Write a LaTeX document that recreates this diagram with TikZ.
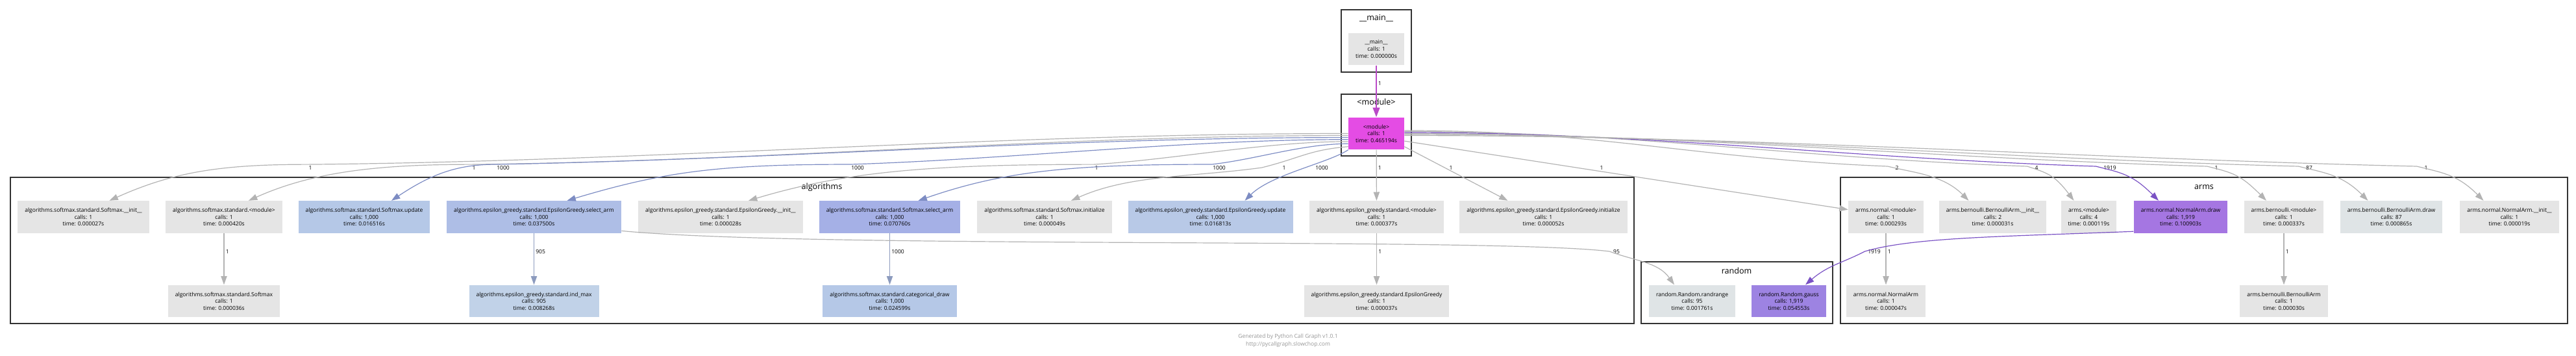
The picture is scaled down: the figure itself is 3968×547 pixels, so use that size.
\documentclass[tikz,border=0pt]{standalone}
\usepackage{fontspec}
\newfontfamily\cgfont{Open Sans}
\usetikzlibrary{arrows.meta,calc}

\definecolor{fngray}{RGB}{229,229,229}
\definecolor{fnsmupd}{RGB}{181,200,231}
\definecolor{fnegsel}{RGB}{174,190,230}
\definecolor{fnsmsel}{RGB}{165,176,230}
\definecolor{fnegupd}{RGB}{184,201,231}
\definecolor{fnindmax}{RGB}{193,210,232}
\definecolor{fncatdraw}{RGB}{181,200,231}
\definecolor{fnpale}{RGB}{223,228,230}
\definecolor{fngauss}{RGB}{157,131,226}
\definecolor{fnnadraw}{RGB}{165,118,226}
\definecolor{fnmodule}{RGB}{228,76,228}
\definecolor{clusterline}{RGB}{51,51,51}
\definecolor{edgegray}{RGB}{179,179,179}
\definecolor{edgeblue}{RGB}{125,140,195}
\definecolor{edgeslate}{RGB}{140,155,190}
\definecolor{edgepurple}{RGB}{122,82,196}
\definecolor{edgemagenta}{RGB}{186,74,200}
\definecolor{footgray}{RGB}{150,150,150}

\tikzset{every picture/.style={line width=0.75pt}}
\tikzset{
  fnode/.style={fill=fngray, font=\cgfont\fontsize{6.4}{8}\selectfont, align=center, minimum height=37pt, inner xsep=8.25pt, inner ysep=1pt},
  clusterbox/.style={draw=clusterline, line width=1.9pt},
  clabel/.style={font=\cgfont\fontsize{9.4}{11}\selectfont},
  countlbl/.style={font=\cgfont\fontsize{6.4}{8}\selectfont, inner sep=1pt},
  callarrow/.style={draw=edgegray, line width=0.9pt, -{Triangle[length=10pt,width=7pt]}},
}

\begin{document}
\begin{tikzpicture}[x=0.75pt,y=0.75pt,yscale=-1,xscale=1]
\useasboundingbox (0,0) rectangle (3968,547);

%Shape: Rectangle [clusters]
\draw [clusterbox] (2066,15) rectangle (2174,111);
\draw [clusterbox] (2066,145) rectangle (2174,240);
\draw [clusterbox] (16,273) rectangle (2517,498);
\draw [clusterbox] (2528,403) rectangle (2823,498);
\draw [clusterbox] (2835,273) rectangle (3955,498);

% Text Node [cluster labels]
\node [clabel] (k-main) at (2120,28) {\_\_main\_\_};
\node [clabel] (k-mod) at (2120,157) {<module>};
\node [clabel] (k-alg) at (1266,288) {algorithms};
\node [clabel] (k-rand) at (2675,417) {random};
\node [clabel] (k-arms) at (3395,288) {arms};

% Text Node [__main__ and <module>]
\node [fnode] (main) at (2120,75.5) {\_\_main\_\_\\calls: 1\\time: 0.000000s};
\node [fnode, fill=fnmodule] (mod) at (2120,205.5) {<module>\\calls: 1\\time: 0.465194s};

% Text Node [algorithms, top row]
\node [fnode] (sminit) at (128.5,334) {algorithms.softmax.standard.Softmax.\_\_init\_\_\\calls: 1\\time: 0.000027s};
\node [fnode] (smmod) at (345,334) {algorithms.softmax.standard.<module>\\calls: 1\\time: 0.000420s};
\node [fnode, fill=fnsmupd] (smupd) at (561,334) {algorithms.softmax.standard.Softmax.update\\calls: 1,000\\time: 0.016516s};
\node [fnode, fill=fnegsel] (egsel) at (822.5,334) {algorithms.epsilon\_greedy.standard.EpsilonGreedy.select\_arm\\calls: 1,000\\time: 0.037500s};
\node [fnode] (eginit) at (1110,334) {algorithms.epsilon\_greedy.standard.EpsilonGreedy.\_\_init\_\_\\calls: 1\\time: 0.000028s};
\node [fnode, fill=fnsmsel] (smsel) at (1370.5,334) {algorithms.softmax.standard.Softmax.select\_arm\\calls: 1,000\\time: 0.070760s};
\node [fnode] (sminz) at (1609,334) {algorithms.softmax.standard.Softmax.initialize\\calls: 1\\time: 0.000049s};
\node [fnode, fill=fnegupd] (egupd) at (1864.5,334) {algorithms.epsilon\_greedy.standard.EpsilonGreedy.update\\calls: 1,000\\time: 0.016813s};
\node [fnode] (egmod) at (2120.5,334) {algorithms.epsilon\_greedy.standard.<module>\\calls: 1\\time: 0.000377s};
\node [fnode] (egintz) at (2377.5,334) {algorithms.epsilon\_greedy.standard.EpsilonGreedy.initialize\\calls: 1\\time: 0.000052s};

% Text Node [algorithms, bottom row]
\node [fnode] (smcls) at (345,463.5) {algorithms.softmax.standard.Softmax\\calls: 1\\time: 0.000036s};
\node [fnode, fill=fnindmax] (indmax) at (822.5,463.5) {algorithms.epsilon\_greedy.standard.ind\_max\\calls: 905\\time: 0.008268s};
\node [fnode, fill=fncatdraw] (catdraw) at (1370.5,463.5) {algorithms.softmax.standard.categorical\_draw\\calls: 1,000\\time: 0.024599s};
\node [fnode] (egcls) at (2120.5,463.5) {algorithms.epsilon\_greedy.standard.EpsilonGreedy\\calls: 1\\time: 0.000037s};

% Text Node [random]
\node [fnode, fill=fnpale] (randr) at (2606.5,463.5) {random.Random.randrange\\calls: 95\\time: 0.001761s};
\node [fnode, fill=fngauss] (gauss) at (2755.5,463.5) {random.Random.gauss\\calls: 1,919\\time: 0.054553s};

% Text Node [arms]
\node [fnode] (anmod) at (2905,334) {arms.normal.<module>\\calls: 1\\time: 0.000293s};
\node [fnode] (bainit) at (3069.5,334) {arms.bernoulli.BernoulliArm.\_\_init\_\_\\calls: 2\\time: 0.000031s};
\node [fnode] (armmod) at (3217.5,334) {arms.<module>\\calls: 4\\time: 0.000119s};
\node [fnode, fill=fnnadraw] (nadraw) at (3359,334) {arms.normal.NormalArm.draw\\calls: 1,919\\time: 0.100903s};
\node [fnode] (bmod) at (3518,334) {arms.bernoulli.<module>\\calls: 1\\time: 0.000337s};
\node [fnode, fill=fnpale] (bdraw) at (3683.5,334) {arms.bernoulli.BernoulliArm.draw\\calls: 87\\time: 0.000865s};
\node [fnode] (nainit) at (3865.5,334) {arms.normal.NormalArm.\_\_init\_\_\\calls: 1\\time: 0.000019s};
\node [fnode] (nacls) at (2905,463.5) {arms.normal.NormalArm\\calls: 1\\time: 0.000047s};
\node [fnode] (bcls) at (3518,463.5) {arms.bernoulli.BernoulliArm\\calls: 1\\time: 0.000030s};

% Text Node [call counts]
\node [countlbl, anchor=west] (c-mod) at (2121,128) {1};
\node [countlbl] (c-sminit) at (478,258) {1};
\node [countlbl] (c-smmod) at (730,258) {1};
\node [countlbl] (c-smupd) at (775,258) {1000};
\node [countlbl] (c-egsel) at (1321,258) {1000};
\node [countlbl] (c-eginit) at (1689,258) {1};
\node [countlbl] (c-smsel) at (1878,258) {1000};
\node [countlbl] (c-sminz) at (1978,258) {1};
\node [countlbl] (c-egupd) at (2036,258) {1000};
\node [countlbl, anchor=west] (c-egmod) at (2121,258) {1};
\node [countlbl] (c-egintz) at (2235,258) {1};
\node [countlbl] (c-anmod) at (2467,258) {1};
\node [countlbl] (c-bainit) at (2922,258) {2};
\node [countlbl] (c-armmod) at (3137,258) {4};
\node [countlbl] (c-nadraw) at (3250,258) {1919};
\node [countlbl] (c-bmod) at (3414,258) {1};
\node [countlbl] (c-bdraw) at (3557,258) {87};
\node [countlbl] (c-nainit) at (3737,258) {1};
\node [countlbl, anchor=west] (c-smcls) at (346,387) {1};
\node [countlbl, anchor=west] (c-indmax) at (823.5,387) {905};
\node [countlbl, anchor=west] (c-catdraw) at (1371.5,387) {1000};
\node [countlbl, anchor=west] (c-egcls) at (2121.5,387) {1};
\node [countlbl] (c-randr) at (2490,387) {95};
\node [countlbl] (c-gauss) at (2887,387) {1919};
\node [countlbl, anchor=west] (c-nacls) at (2906,387) {1};
\node [countlbl, anchor=west] (c-bcls) at (3519,387) {1};

%Straight Lines [__main__ to <module>]
\draw [callarrow, draw=edgemagenta, line width=1.5pt, -{Triangle[length=11pt,width=8pt]}] (main) -- (mod);

%Curve Lines [<module> to algorithms]
\draw [callarrow] (mod.west) .. controls +(-535,0) and +(535,-5) .. (c-sminit.north west) .. controls +(-130,0) and +(100,-45) .. ($(sminit.north)+(40,0)$);
\draw [callarrow] (mod.184) .. controls +(-450,0) and +(450,-5) .. (c-smmod.north west) .. controls +(-140,0) and +(100,-45) .. ($(smmod.north)+(38,0)$);
\draw [callarrow, draw=edgeblue] (mod.188) .. controls +(-440,0) and +(440,-8) .. (c-smupd.north west) .. controls +(-60,0) and +(60,-40) .. ($(smupd.north)+(42,0)$);
\draw [callarrow, draw=edgeblue] (mod.192) .. controls +(-250,0) and +(250,-8) .. (c-egsel.north west) .. controls +(-200,0) and +(150,-45) .. ($(egsel.north)+(51,0)$);
\draw [callarrow] (mod.196) .. controls +(-130,0) and +(130,-8) .. (c-eginit.north west) .. controls +(-250,0) and +(150,-45) .. ($(eginit.north)+(43,0)$);
\draw [callarrow, draw=edgeblue] (mod.200) .. controls +(-70,0) and +(70,-8) .. (c-smsel.north west) .. controls +(-220,0) and +(130,-45) .. ($(smsel.north)+(44,0)$);
\draw [callarrow] (mod.205) .. controls +(-60,5) and +(60,-15) .. ($(c-sminz.west)+(-30,0)$) .. controls +(-110,15) and +(90,-40) .. ($(sminz.north)+(41,0)$);
\draw [callarrow, draw=edgeblue] (mod.south west) .. controls +(-30,20) and +(40,-40) .. ($(egupd.north)+(53,0)$);
\draw [callarrow] (mod) -- (egmod);
\draw [callarrow] (mod.-25) -- ($(egintz.north)+(-55,0)$);
\draw [callarrow] (mod.-15) -- (anmod.169);

%Curve Lines [<module> to arms]
\draw [callarrow] (mod.6) .. controls +(300,0) and +(-300,-12) .. ($(c-bainit.west)+(-10,-2)$) .. controls +(40,10) and +(-40,-40) .. ($(bainit.north)+(-37,0)$);
\draw [callarrow] (mod.4) .. controls +(350,0) and +(-350,-12) .. ($(c-armmod.west)+(-10,-2)$) .. controls +(30,10) and +(-30,-40) .. ($(armmod.north)+(-23,0)$);
\draw [callarrow, draw=edgepurple] (mod.2) .. controls +(380,0) and +(-380,-12) .. ($(c-nadraw.west)+(-10,-2)$) .. controls +(40,10) and +(-40,-40) .. ($(nadraw.north)+(-34,0)$);
\draw [callarrow] (mod.0) .. controls +(420,0) and +(-420,-12) .. ($(c-bmod.west)+(-10,-2)$) .. controls +(40,10) and +(-40,-40) .. ($(bmod.north)+(-27,0)$);
\draw [callarrow] (mod.-2) .. controls +(470,0) and +(-470,-12) .. ($(c-bdraw.west)+(-10,-2)$) .. controls +(40,10) and +(-40,-40) .. ($(bdraw.north)+(-36,0)$);
\draw [callarrow] (mod.-4) .. controls +(520,0) and +(-520,-12) .. ($(c-nainit.west)+(-10,-2)$) .. controls +(40,10) and +(-40,-40) .. ($(nainit.north)+(-40,0)$);

%Straight Lines [second level]
\draw [callarrow] (smmod) -- (smcls);
\draw [callarrow, draw=edgeslate] (egsel) -- (indmax);
\draw [callarrow, draw=edgeslate] (smsel) -- (catdraw);
\draw [callarrow] (egmod) -- (egcls);
\draw [callarrow] (anmod) -- (nacls);
\draw [callarrow] (bmod) -- (bcls);

%Curve Lines [to random]
\draw [callarrow] (egsel.-9) .. controls +(292,28) and +(-178,-22) .. ($(c-randr.west)+(-4,0)$) .. controls +(40,15) and +(-25,-35) .. ($(randr.north)+(-27.5,0)$);
\draw [callarrow, draw=edgepurple] (nadraw.197) .. controls +(-200,8) and +(75,-22) .. ($(c-gauss.west)+(-3,0)$) .. controls +(-35,18) and +(35,-30) .. ($(gauss.north)+(25.5,0)$);

% Text Node [footer]
\node [font=\cgfont\fontsize{6.4}{9}\selectfont, text=footgray, align=center] (foot) at (1984,524) {Generated by Python Call Graph v1.0.1\\http://pycallgraph.slowchop.com};

\end{tikzpicture}
\end{document}
